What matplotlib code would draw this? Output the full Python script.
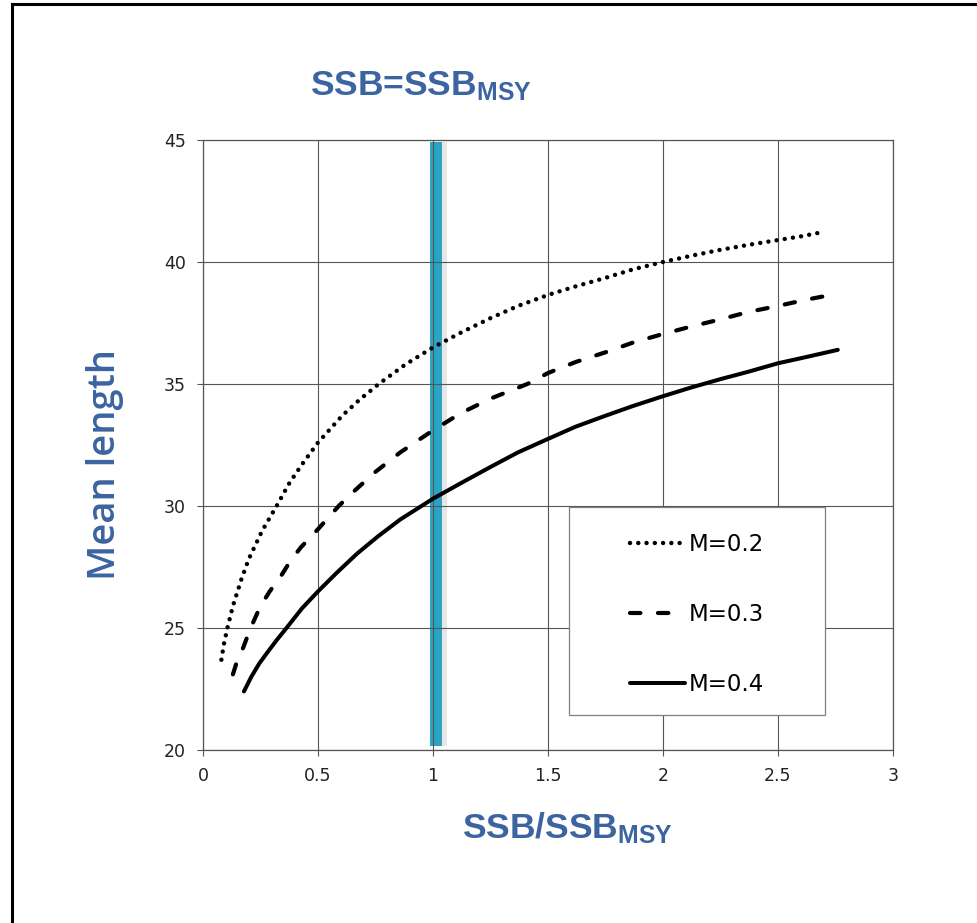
import matplotlib
matplotlib.use("Agg")
import matplotlib.pyplot as plt
from matplotlib.patches import Rectangle
from matplotlib.lines import Line2D

# Werte
x_m02 = [0.08, 0.09, 0.106, 0.13, 0.167, 0.2, 0.258, 0.32, 0.373, 0.43, 0.5, 0.605, 0.68, 0.764, 0.88,
         1.0, 1.12, 1.25, 1.37, 1.5, 1.62, 1.75, 1.87, 2.0, 2.12, 2.25, 2.37, 2.5, 2.6, 2.68]
y_m02 = [23.7, 24.3, 25.0, 25.9, 27.0, 27.85, 29.0, 30.0, 30.9, 31.7, 32.6, 33.7, 34.35, 35.0, 35.8,
         36.5, 37.1, 37.7, 38.2, 38.65, 39.0, 39.35, 39.7, 40.0, 40.25, 40.5, 40.7, 40.9, 41.05, 41.2]

x_m03 = [0.13, 0.15, 0.175, 0.207, 0.25, 0.29, 0.337, 0.38, 0.425, 0.5, 0.59, 0.656, 0.75, 0.858,
         1.0, 1.12, 1.25, 1.41, 1.5, 1.62, 1.75, 1.87, 2.0, 2.12, 2.25, 2.37, 2.5, 2.62, 2.73]
y_m03 = [23.1, 23.7, 24.2, 25.0, 25.9, 26.5, 27.1, 27.75, 28.3, 29.05, 30.0, 30.6, 31.4, 32.2,
         33.1, 33.8, 34.4, 35.0, 35.45, 35.9, 36.3, 36.7, 37.05, 37.35, 37.65, 37.95, 38.2, 38.45, 38.65]

x_m04 = [0.178, 0.21, 0.245, 0.28, 0.32, 0.363, 0.43, 0.5, 0.58, 0.67, 0.76, 0.858, 1.0, 1.12,
         1.25, 1.37, 1.5, 1.62, 1.75, 1.87, 2.0, 2.12, 2.25, 2.37, 2.5, 2.62, 2.76]
y_m04 = [22.4, 23.0, 23.55, 24.0, 24.5, 25.0, 25.8, 26.5, 27.25, 28.05, 28.75, 29.45, 30.3, 30.93,
         31.6, 32.2, 32.75, 33.25, 33.7, 34.1, 34.5, 34.85, 35.2, 35.5, 35.85, 36.1, 36.4]

labels = ["M=0.2", "M=0.3", "M=0.4"]
x_ticks = [0, 0.5, 1, 1.5, 2, 2.5, 3]
x_ticklabels = ["0", "0.5", "1", "1.5", "2", "2.5", "3"]
y_ticks = [20, 25, 30, 35, 40, 45]

msy_x = 1.015
msy_y = [20.15, 44.9]

blau = "#3B64A0"
titel_font = ["Liberation Sans", "DejaVu Sans"]

plt.rcParams["mathtext.default"] = "regular"

fig = plt.figure(figsize=(9.78, 9.23), dpi=100)
ax = fig.add_axes([203 / 978, 1 - 750 / 923, 690 / 978, 610 / 923])

# Rahmen links und oben
fig.add_artist(Line2D([12 / 978, 12 / 978], [0, 1 - 4 / 923], color="black", lw=2.2))
fig.add_artist(Line2D([12 / 978, 1], [1 - 4 / 923, 1 - 4 / 923], color="black", lw=2.2))

# SSB_MSY Balken mit Schatten
ax.plot([msy_x + 0.02, msy_x + 0.02], msy_y, color="#e6e6e6", lw=8.6, solid_capstyle="butt", zorder=1.1)
ax.plot([msy_x, msy_x], msy_y, color="#2BA3C3", lw=8.6, solid_capstyle="butt", zorder=1.2)

ax.plot(x_m02, y_m02, color="black", lw=3.2, linestyle=(0, (0.01, 1.85)),
        dash_capstyle="round", label=labels[0], zorder=3)
ax.plot(x_m03, y_m03, color="black", lw=3.0, linestyle=(0, (2.5, 4.2)),
        dash_capstyle="round", label=labels[1], zorder=3)
ax.plot(x_m04, y_m04, color="black", lw=2.9, solid_capstyle="round", label=labels[2], zorder=3)

ax.set_xlim(0, 3)
ax.set_ylim(20, 45)
ax.set_xticks(x_ticks)
ax.set_xticklabels(x_ticklabels)
ax.set_yticks(y_ticks)
ax.grid(True, color="#555555", lw=0.8)
ax.set_axisbelow("line")
for s in ax.spines.values():
    s.set_color("#555555")
    s.set_linewidth(0.9)
ax.tick_params(direction="out", length=4.3, width=0.8, color="#555555",
               labelsize=12.5, labelcolor="#222222", pad=8)

# Legende mit eigenem Kasten
ax.add_patch(Rectangle((0.530, 0.0574), 0.371, 0.3406, transform=ax.transAxes,
                       facecolor="white", edgecolor="#7f7f7f", lw=0.9, zorder=4))
leg = ax.legend(loc="center", bbox_to_anchor=(0.716, 0.222), frameon=False,
                fontsize=16.5, handlelength=2.4, handletextpad=0.2, labelspacing=2.05)
leg.set_zorder(5)

fig.text(421 / 978, 1 - 95 / 923, r"SSB=SSB$_{MSY}$", color=blau, fontsize=25.5,
         fontweight="bold", family=titel_font, ha="center", va="baseline")
fig.text(567 / 978, 1 - 838 / 923, r"SSB/SSB$_{MSY}$", color=blau, fontsize=25.5,
         fontweight="bold", family=titel_font, ha="center", va="baseline")
fig.text(105 / 978, 1 - 464 / 923, "Mean length", color=blau, fontsize=27.5,
         fontweight="semibold", family=["Open Sans", "DejaVu Sans"], rotation=90,
         ha="center", va="center")

fig.savefig("out.png", dpi=100)
